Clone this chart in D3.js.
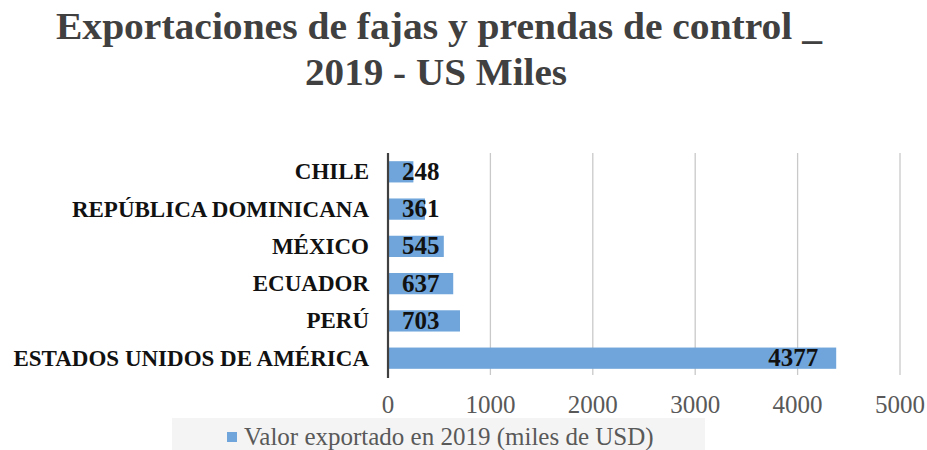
<!DOCTYPE html>
<html>
<head>
<meta charset="utf-8">
<script src="https://cdn.jsdelivr.net/npm/d3@7/dist/d3.min.js"></script>
<style>
  html, body { margin: 0; padding: 0; background: #fff; }
  svg { display: block; }
</style>
</head>
<body>
<svg id="chart" width="927" height="450"></svg>
<script>
// Export values (thousands of USD), top to bottom
const countries = ["CHILE", "REPÚBLICA DOMINICANA", "MÉXICO", "ECUADOR", "PERÚ", "ESTADOS UNIDOS DE AMÉRICA"];
const values = [248, 361, 545, 637, 703, 4377];
const xTicks = [0, 1000, 2000, 3000, 4000, 5000];
const titleLines = ["Exportaciones de fajas y prendas de control _", "2019 - US Miles"];
const seriesName = "Valor exportado en 2019 (miles de USD)";

const serif = "'Liberation Serif', 'Times New Roman', serif";
const barColor = "#6fa5da";

const svg = d3.select("#chart");
const margin = { left: 388, right: 27, top: 153, bottom: 73 };
const W = 927, H = 450;

const x = d3.scaleLinear().domain([0, 5000]).range([margin.left, W - margin.right]);
const y = d3.scaleBand().domain(countries).range([margin.top, H - margin.bottom]).paddingInner(0.43).paddingOuter(0.22);

// Title
const title = svg.append("g").attr("font-family", serif).attr("font-weight", "bold")
  .attr("font-size", 38).attr("fill", "#404040").attr("text-anchor", "middle");
title.selectAll("text").data(titleLines).join("text")
  .attr("x", 439).attr("y", (d, i) => 39 + i * 46)
  .text(d => d);
const tl = title.selectAll("text").nodes();
d3.select(tl[0]).attr("textLength", 766).attr("lengthAdjust", "spacingAndGlyphs");
d3.select(tl[1]).attr("x", 436).attr("textLength", 262).attr("lengthAdjust", "spacingAndGlyphs");

// Vertical gridlines
svg.append("g").selectAll("line").data(xTicks.filter(t => t > 0)).join("line")
  .attr("x1", d => x(d)).attr("x2", d => x(d))
  .attr("y1", margin.top).attr("y2", H - margin.bottom - 2)
  .attr("stroke", "#c9c9c9").attr("stroke-width", 1.3);

// Bars
svg.append("g").selectAll("rect").data(countries).join("rect")
  .attr("x", x(0)).attr("y", d => y(d))
  .attr("width", (d, i) => x(values[i]) - x(0))
  .attr("height", y.bandwidth())
  .attr("fill", barColor);

// Category axis line
svg.append("line")
  .attr("x1", x(0)).attr("x2", x(0))
  .attr("y1", margin.top).attr("y2", H - margin.bottom + 1)
  .attr("stroke", "#404040").attr("stroke-width", 2.2);

// Category labels
svg.append("g").selectAll("text").data(countries).join("text")
  .attr("x", 369).attr("y", d => y(d) + y.bandwidth() / 2 + 7.5)
  .attr("text-anchor", "end")
  .attr("font-family", serif).attr("font-weight", "bold").attr("font-size", 23)
  .attr("fill", "#111")
  .text(d => d);

// Value labels: near the base for short bars, inside the end for long ones
svg.append("g").selectAll("text").data(countries).join("text")
  .attr("y", d => y(d) + y.bandwidth() / 2 + 8)
  .attr("font-family", serif).attr("font-weight", "bold").attr("font-size", 25)
  .attr("fill", "#111")
  .each(function (d, i) {
    const long = x(values[i]) - x(0) > 120;
    d3.select(this)
      .attr("text-anchor", long ? "end" : "start")
      .attr("x", long ? x(values[i]) - 18 : x(0) + 14);
  })
  .text((d, i) => values[i]);

// Value axis tick labels
svg.append("g").selectAll("text").data(xTicks).join("text")
  .attr("x", d => x(d)).attr("y", 413)
  .attr("text-anchor", "middle")
  .attr("font-family", serif).attr("font-size", 25).attr("fill", "#595959")
  .text(d => d);

// Legend
const lg = svg.append("g");
lg.append("rect").attr("x", 172).attr("y", 418).attr("width", 533).attr("height", 32).attr("fill", "#f4f4f4");
lg.append("rect").attr("x", 227).attr("y", 432).attr("width", 10).attr("height", 10).attr("fill", barColor);
lg.append("text").attr("x", 244).attr("y", 445)
  .attr("font-family", serif).attr("font-size", 25).attr("fill", "#595959")
  .text(seriesName);
</script>
</body>
</html>
